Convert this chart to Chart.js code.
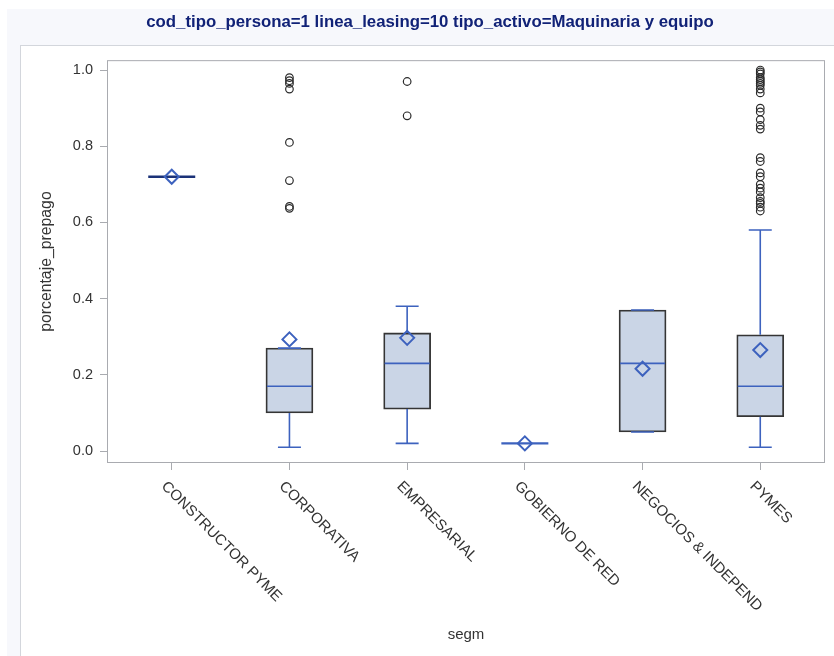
<!DOCTYPE html>
<html>
<head>
<meta charset="utf-8">
<script src="https://cdn.jsdelivr.net/npm/chart.js@4.4.1/dist/chart.umd.min.js"></script>
<style>
    html, body { margin: 0; padding: 0; background: #ffffff; overflow: hidden; }
    #bg { position: absolute; left: 7px; top: 9px; right: 0; bottom: 0; background: #f7f8fc; }
    #panel { position: absolute; left: 20px; top: 45px; right: -5px; bottom: -5px; background: #ffffff; border: 1px solid #d3d6dc; }
    #boxChart { position: absolute; left: 0; top: 0; }
</style>
</head>
<body>
<div id="bg"></div>
<div id="panel"></div>
<canvas id="boxChart" width="834" height="656"></canvas>
<script>
var segments = ["CONSTRUCTOR PYME", "CORPORATIVA", "EMPRESARIAL", "GOBIERNO DE RED", "NEGOCIOS & INDEPEND", "PYMES"];
var q1 = [0.72, 0.10, 0.11, 0.02, 0.05, 0.09];
var medians = [0.72, 0.17, 0.23, 0.02, 0.23, 0.17];
var q3 = [0.72, 0.27, 0.31, 0.02, 0.37, 0.305];
var whiskerLow = [0.72, 0.01, 0.02, 0.02, 0.05, 0.01];
var whiskerHigh = [0.72, 0.27, 0.38, 0.02, 0.37, 0.58];
var means = [0.72, 0.293, 0.297, 0.02, 0.216, 0.265];
var outliers = [
    [],
    [0.98, 0.972, 0.965, 0.95, 0.81, 0.71, 0.642, 0.637],
    [0.97, 0.88],
    [],
    [],
    [1.0, 0.995, 0.99, 0.98, 0.975, 0.97, 0.965, 0.96, 0.95, 0.94, 0.90, 0.89, 0.87, 0.855, 0.845,
     0.77, 0.76, 0.73, 0.72, 0.70, 0.69, 0.68, 0.665, 0.655, 0.65, 0.64, 0.63]
];
var yTicks = [0, 0.2, 0.4, 0.6, 0.8, 1.0];

var blue = "#3d62be";
var axisGrey = "#a9abb0";
var textColor = "#333333";
var font = "'Liberation Sans', Arial, sans-serif";

var boxData = segments.map(function (s, i) { return {x: i, y: [q1[i], q3[i]]}; });
var meanData = segments.map(function (s, i) { return {x: i, y: means[i]}; });
var outlierData = [];
outliers.forEach(function (list, i) {
    list.forEach(function (v) { outlierData.push({x: i, y: v}); });
});

// whiskers, caps and medians, drawn right after the boxes
var boxExtras = {
    id: "boxExtras",
    afterDatasetDraw: function (chart, args) {
        if (args.index !== 0) return;
        var ctx = chart.ctx, xs = chart.scales.x, ys = chart.scales.y;
        var half = 23.5, cap = 11.5;
        ctx.save();
        ctx.strokeStyle = blue;
        ctx.lineWidth = 1.6;
        for (var i = 0; i < segments.length; i++) {
            var x = xs.getPixelForValue(i);
            var yMed = ys.getPixelForValue(medians[i]);
            if (q1[i] === q3[i]) {
                // one value only: the box collapses to a line
                ctx.lineWidth = 2.4;
                ctx.strokeStyle = i === 0 ? "#1b3278" : blue;
                ctx.beginPath();
                ctx.moveTo(x - half, yMed);
                ctx.lineTo(x + half, yMed);
                ctx.stroke();
                ctx.lineWidth = 1.6;
                ctx.strokeStyle = blue;
                continue;
            }
            var yLo = ys.getPixelForValue(whiskerLow[i]);
            var yHi = ys.getPixelForValue(whiskerHigh[i]);
            var yQ1 = ys.getPixelForValue(q1[i]);
            var yQ3 = ys.getPixelForValue(q3[i]);
            ctx.beginPath();
            if (whiskerLow[i] < q1[i]) { ctx.moveTo(x, yQ1); ctx.lineTo(x, yLo); }
            if (whiskerHigh[i] > q3[i]) { ctx.moveTo(x, yQ3); ctx.lineTo(x, yHi); }
            ctx.moveTo(x - cap, yLo); ctx.lineTo(x + cap, yLo);
            ctx.moveTo(x - cap, yHi); ctx.lineTo(x + cap, yHi);
            ctx.moveTo(x - half + 1, yMed); ctx.lineTo(x + half - 1, yMed);
            ctx.stroke();
        }
        ctx.restore();
    },
    afterDraw: function (chart) {
        var ctx = chart.ctx, a = chart.chartArea, xs = chart.scales.x;
        ctx.save();
        ctx.strokeStyle = axisGrey;
        ctx.lineWidth = 1;
        ctx.strokeRect(a.left + 0.5, a.top + 0.5, a.right - a.left - 1, a.bottom - a.top - 1);
        ctx.fillStyle = textColor;
        ctx.font = "15px " + font;
        ctx.textAlign = "left";
        ctx.textBaseline = "middle";
        xs.ticks.forEach(function (t) {
            var x = xs.getPixelForValue(t.value);
            ctx.save();
            ctx.translate(x - 8, a.bottom + 21);
            ctx.rotate(Math.PI / 4);
            ctx.fillText(segments[t.value], 0, 0);
            ctx.restore();
        });
        ctx.restore();
    }
};

var boxChart = new Chart(document.getElementById("boxChart"), {
    type: "bar",
    data: {
        datasets: [
            {
                type: "bar",
                data: boxData,
                backgroundColor: "#cad5e6",
                borderColor: "#353535",
                borderWidth: 1.8,
                borderSkipped: false,
                barThickness: 47,
                order: 3
            },
            {
                type: "scatter",
                data: outlierData,
                pointStyle: "circle",
                pointRadius: 3.8,
                pointBorderWidth: 1.2,
                pointBorderColor: "#2b2b2b",
                pointBackgroundColor: "rgba(0,0,0,0)",
                order: 2
            },
            {
                type: "scatter",
                data: meanData,
                pointStyle: "rectRot",
                pointRadius: 7,
                pointBorderWidth: 2,
                pointBorderColor: blue,
                pointBackgroundColor: "rgba(0,0,0,0)",
                order: 1
            }
        ]
    },
    options: {
        responsive: false,
        animation: false,
        devicePixelRatio: 1,
        layout: {padding: {left: 34, right: 8, top: 0, bottom: 0}},
        plugins: {
            legend: {display: false},
            tooltip: {enabled: false},
            title: {
                display: true,
                text: "cod_tipo_persona=1 linea_leasing=10 tipo_activo=Maquinaria y equipo",
                color: "#112277",
                font: {family: font, size: 16.8, weight: "bold"},
                padding: {top: 12, bottom: 28}
            }
        },
        scales: {
            x: {
                type: "linear",
                min: -0.55,
                max: 5.55,
                offset: false,
                afterBuildTicks: function (scale) {
                    scale.ticks = segments.map(function (s, i) { return {value: i}; });
                },
                afterFit: function (scale) { scale.height = 193; },
                grid: {offset: false, drawOnChartArea: false, drawTicks: true, tickLength: 7, color: axisGrey},
                border: {display: false},
                ticks: {display: false},
                title: {
                    display: true,
                    text: "segm",
                    color: textColor,
                    font: {family: font, size: 15},
                    padding: {top: 0, bottom: 12}
                }
            },
            y: {
                type: "linear",
                min: -0.0315,
                max: 1.026,
                afterBuildTicks: function (scale) {
                    scale.ticks = yTicks.map(function (v) { return {value: v}; });
                },
                afterFit: function (scale) { scale.width = 73; },
                grid: {drawOnChartArea: false, drawTicks: true, tickLength: 7, color: axisGrey},
                border: {display: false},
                ticks: {
                    color: textColor,
                    font: {family: font, size: 14.5},
                    padding: 7,
                    callback: function (v) { return v.toFixed(1); }
                },
                title: {
                    display: true,
                    text: "porcentaje_prepago",
                    color: textColor,
                    font: {family: font, size: 15.8},
                    padding: {top: 3, bottom: 0}
                }
            }
        }
    },
    plugins: [boxExtras]
});
</script>
</body>
</html>
